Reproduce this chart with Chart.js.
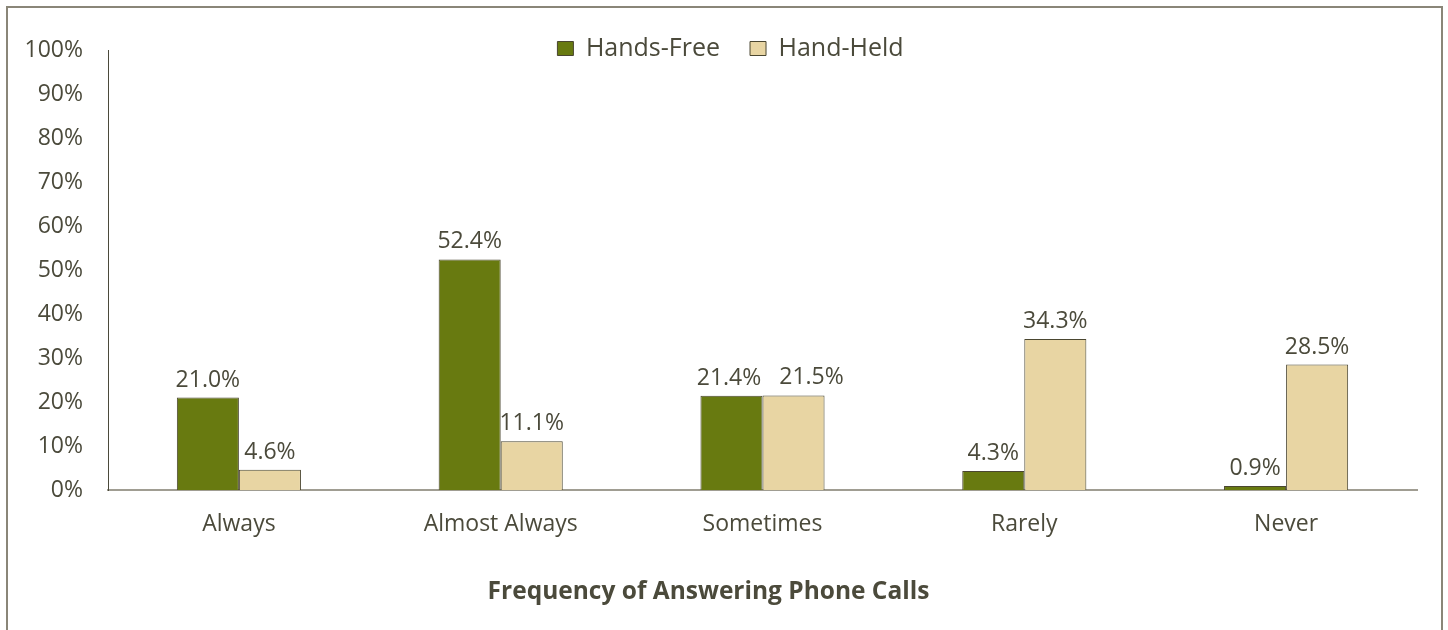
<!DOCTYPE html>
<html>
<head>
<meta charset="utf-8">
<script src="https://cdn.jsdelivr.net/npm/chart.js@4/dist/chart.umd.min.js"></script>
<style>
  html, body { margin: 0; padding: 0; background: #ffffff; overflow: hidden; }
  #wrap { position: relative; width: 1448px; height: 630px; }
  #frame {
    position: absolute; left: 6px; top: 6px; width: 1437px; height: 700px;
    border: 2px solid #8a8678; box-sizing: border-box; pointer-events: none;
  }
  canvas { position: absolute; left: 0; top: 0; }
</style>
</head>
<body>
<div id="wrap">
  <canvas id="chart" width="1448" height="630"></canvas>
  <div id="frame"></div>
</div>
<script>
// Survey answers: how often drivers answer phone calls, by phone type
const categories = ['Always', 'Almost Always', 'Sometimes', 'Rarely', 'Never'];
const handsFree = [21.0, 52.4, 21.4, 4.3, 0.9];
const handHeld = [4.6, 11.1, 21.5, 34.3, 28.5];
const yTicks = [0, 10, 20, 30, 40, 50, 60, 70, 80, 90, 100];
const axisTitle = 'Frequency of Answering Phone Calls';

const textColor = '#4b4a3b';
const fontFamily = '"Open Sans", Lato, sans-serif';
const fontSize = 23;

// Writes each bar's value just above it, nudging apart labels that would touch
const valueLabels = {
  id: 'valueLabels',
  afterDatasetsDraw(chart) {
    const ctx = chart.ctx;
    ctx.save();
    ctx.fillStyle = textColor;
    ctx.font = fontSize + 'px ' + fontFamily;
    ctx.textAlign = 'center';
    ctx.textBaseline = 'alphabetic';
    const metas = chart.data.datasets.map((ds, i) => chart.getDatasetMeta(i));
    chart.data.labels.forEach((_, j) => {
      const items = metas.map((meta, i) => {
        const text = chart.data.datasets[i].data[j].toFixed(1) + '%';
        const bar = meta.data[j];
        return { text, x: bar.x, y: bar.y - 11, w: ctx.measureText(text).width };
      });
      for (let k = 1; k < items.length; k++) {
        const a = items[k - 1], b = items[k];
        if (Math.abs(a.y - b.y) < 24) {
          const need = (a.w + b.w) / 2 + 18;
          const over = need - (b.x - a.x);
          if (over > 0) { a.x -= over * 0.12; b.x += over * 0.88; }
        }
      }
      items.forEach(it => ctx.fillText(it.text, it.x, it.y));
    });
    ctx.restore();
  }
};

// Places the legend box level with the top of the value axis, a little right of centre
const legendLift = {
  id: 'legendLift',
  afterLayout(chart) {
    const lg = chart.legend;
    if (lg) {
      lg.top = 6;
      lg.bottom = 70;
      lg.height = 64;
      lg.left += 22;
      lg.right += 22;
    }
  }
};

new Chart(document.getElementById('chart'), {
  type: 'bar',
  data: {
    labels: categories,
    datasets: [
      {
        label: 'Hands-Free',
        data: handsFree,
        backgroundColor: '#687a10',
        borderColor: '#4a4630',
        borderWidth: 1,
        categoryPercentage: 0.474,
        barPercentage: 1.0
      },
      {
        label: 'Hand-Held',
        data: handHeld,
        backgroundColor: '#e8d5a3',
        borderColor: '#4a4630',
        borderWidth: 1,
        categoryPercentage: 0.474,
        barPercentage: 1.0
      }
    ]
  },
  options: {
    responsive: false,
    animation: false,
    layout: { padding: { left: 0, right: 31, top: 49, bottom: 23 } },
    plugins: {
      tooltip: { enabled: false },
      title: {
        display: true,
        position: 'bottom',
        text: axisTitle,
        color: textColor,
        font: { family: fontFamily, size: 24.5, weight: 'bold', lineHeight: 1.2 },
        padding: { top: 0, bottom: 0 }
      },
      legend: {
        position: 'top',
        align: 'center',
        maxHeight: 1,
        labels: {
          color: textColor,
          font: { family: fontFamily, size: 25 },
          boxWidth: 16,
          boxHeight: 14,
          padding: 30
        }
      }
    },
    scales: {
      x: {
        grid: { display: false, drawTicks: false },
        border: { display: true, color: '#a09d92', width: 2 },
        ticks: {
          color: textColor,
          font: { family: fontFamily, size: fontSize },
          padding: 21,
          maxRotation: 0
        },
        afterFit(scale) { scale.height = 87.6; }
      },
      y: {
        min: 0,
        max: 100,
        grid: { display: false, drawTicks: false },
        border: { display: true, color: '#4b4a3b', width: 1 },
        afterBuildTicks(scale) { scale.ticks = yTicks.map(v => ({ value: v })); },
        ticks: {
          color: textColor,
          font: { family: fontFamily, size: fontSize },
          padding: 25,
          callback: v => v + '%'
        },
        afterFit(scale) { scale.width = 108; }
      }
    }
  },
  plugins: [valueLabels, legendLift]
});
</script>
</body>
</html>
